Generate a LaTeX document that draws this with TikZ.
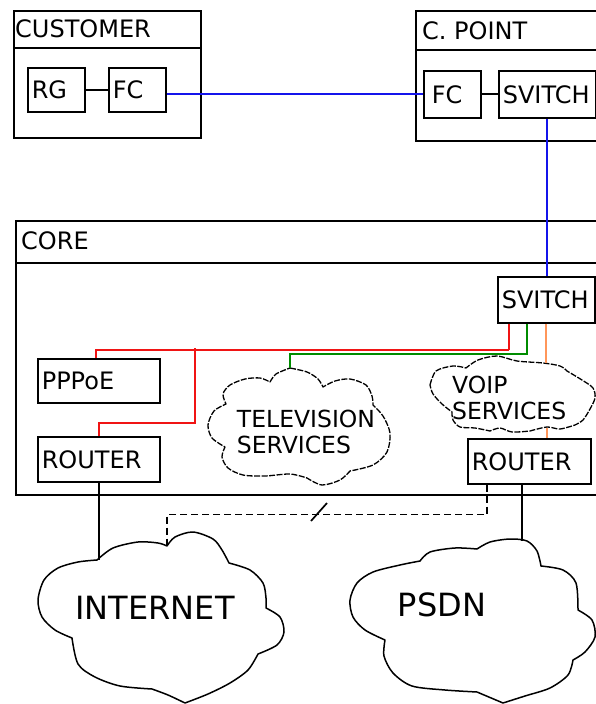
\documentclass[tikz,border=0pt]{standalone}
\usepackage{fontspec}
\setmainfont{DejaVu Sans}
\newcommand\lblfont{\fontsize{24}{28}\selectfont}
\newcommand\cloudfont{\fontsize{23.5}{26}\selectfont}
\newcommand\bigfont{\fontsize{32}{38}\selectfont}
\definecolor{linkblue}{RGB}{20,20,235}
\definecolor{linkred}{RGB}{240,20,20}
\definecolor{linkgreen}{RGB}{0,140,0}
\definecolor{linkorange}{RGB}{255,150,90}
\begin{document}
\begin{tikzpicture}[x=1pt,y=-1pt,
  frame/.style={draw, line width=1.6pt, anchor=north west, inner sep=0pt},
  unitbox/.style={draw, line width=1.6pt, anchor=north west, inner xsep=4pt,
                  inner ysep=0pt, align=left, font=\lblfont},
  title/.style={anchor=west, inner sep=0pt, font=\lblfont},
  wire/.style={line width=1.7pt},
  fiber/.style={draw=linkblue, line width=1.8pt},
  redlink/.style={draw=linkred, line width=1.9pt},
  greenlink/.style={draw=linkgreen, line width=1.9pt},
  orangelink/.style={draw=linkorange, line width=1.9pt},
  backup/.style={line width=1.6pt, dash pattern=on 7pt off 4pt},
  smallcloud/.style={line width=1.3pt, dash pattern=on 6pt off 1.5pt, line join=round},
  bigcloud/.style={line width=1.5pt, line join=round},
  cloudtext/.style={align=left, inner sep=0pt, font=\cloudfont},
  bigtext/.style={inner sep=0pt, font=\bigfont}]
\useasboundingbox[fill=white] (0,0) rectangle (596,704);

% ---- customer premises
\node[frame, minimum width=187pt, minimum height=127pt] (customer) at (13,10) {};
\draw[wire] ([yshift=-38pt]customer.north west) -- ([yshift=-38pt]customer.north east);
\node[title] (customerlbl) at (15,29) {CUSTOMER};
\node[unitbox, text width=49pt, minimum height=44pt] (rg) at (27,67) {RG};
\node[unitbox, text width=49pt, minimum height=44pt] (fccust) at (108,67) {FC};
\draw[wire] (rg) -- (fccust);

% ---- connection point
\node[frame, minimum width=190pt, minimum height=130pt] (cpoint) at (415,10) {};
\draw[wire] ([yshift=-40pt]cpoint.north west) -- ([yshift=-40pt]cpoint.north east);
\node[title] (cpointlbl) at (422,31) {C. POINT};
\node[unitbox, text width=49pt, minimum height=47pt] (fccp) at (423,70) {\hspace*{4pt}FC};
\node[unitbox, text width=89pt, minimum height=47pt] (swcp) at (498,70) {SVITCH};
\draw[wire] (fccp) -- (swcp);

% ---- core network
\node[frame, minimum width=590pt, minimum height=274pt] (core) at (15,220) {};
\draw[wire] ([yshift=-43pt]core.north west) -- ([yshift=-43pt]core.north east);
\node[title] (corelbl) at (21,241) {CORE};
\node[unitbox, text width=89pt, minimum height=46pt] (swcore) at (497,276) {SVITCH};
\node[unitbox, text width=114pt, minimum height=44pt] (pppoe) at (37,358) {PPPoE};
\node[unitbox, text width=114pt, minimum height=45pt] (rtinet) at (37,436) {ROUTER};
\node[unitbox, text width=115pt, minimum height=45pt] (rtvoip) at (467,438) {ROUTER};

% ---- fibre links
\draw[fiber] (fccust.east |- fccp.west) -- (fccp.west);
\draw[fiber] (swcp.south) -- (swcp.south |- swcore.north);

% ---- television cloud
\draw[smallcloud]
  plot[smooth] coordinates {(290,368) (307,372) (318,379) (323,387)}
  -- plot[smooth] coordinates {(323,387) (335,381) (350,379) (366,385) (372,396) (373,405)}
  -- plot[smooth] coordinates {(373,405) (383,416) (390,433) (387,452) (373,465) (350,471)}
  -- plot[smooth] coordinates {(350,471) (340,480) (322,485) (307,478)}
  -- plot[smooth] coordinates {(307,478) (290,474) (265,476) (243,475) (228,468) (222,457) (225,447)}
  -- plot[smooth] coordinates {(225,447) (212,438) (208,425) (214,411) (226,404)}
  -- plot[smooth] coordinates {(226,404) (223,394) (230,385) (245,379) (260,378) (270,382)}
  -- plot[smooth] coordinates {(270,382) (276,374) (290,368)} -- cycle;
\coordinate (tvtop) at (290,368);
\node[cloudtext] (tvlbl) at (306,432) {TELEVISION\\SERVICES};

% ---- voip cloud
\draw[smallcloud]
  plot[smooth] coordinates {(430,385) (436,371) (453,366) (466,368)}
  -- plot[smooth] coordinates {(466,368) (478,360) (497,356) (517,361) (543,363) (560,366) (567,371)}
  -- plot[smooth] coordinates {(567,371) (582,380) (593,388) (595,398) (590,409) (583,420) (575,425)}
  -- plot[smooth] coordinates {(575,425) (560,429) (547,427) (530,431)}
  -- plot[smooth] coordinates {(530,431) (512,432) (500,428) (490,431)}
  -- plot[smooth] coordinates {(490,431) (475,428) (460,427) (453,420) (452,412)}
  -- plot[smooth] coordinates {(452,412) (442,404) (433,394) (430,385)} -- cycle;
\coordinate (voiptop) at (546,363);
\coordinate (voipbot) at (547,428);
\node[cloudtext, anchor=west] (voiplbl) at (452,398) {VOIP\\SERVICES};

% ---- internet cloud
\draw[bigcloud]
  plot[smooth] coordinates {(97,560) (113,548) (138,542) (158,543) (167,546)}
  -- plot[smooth] coordinates {(167,546) (175,537) (193,532) (213,539) (222,550) (229,563)}
  -- plot[smooth] coordinates {(229,563) (250,570) (263,583) (266,598) (266,608)}
  -- plot[smooth] coordinates {(266,608) (280,617) (284,632) (277,645) (258,654)}
  -- plot[smooth] coordinates {(258,654) (248,670) (230,683) (208,694) (185,703)}
  -- plot[smooth] coordinates {(185,703) (168,695) (152,689)}
  -- plot[smooth] coordinates {(152,689) (120,686) (95,677) (78,664) (72,638)}
  -- plot[smooth] coordinates {(72,638) (55,630) (42,617) (38,600) (44,580) (58,568) (78,562) (97,560)} -- cycle;
\coordinate (inettop) at (97,560);
\coordinate (inetdash) at (167,546);
\node[bigtext] (inetlbl) at (155,608) {INTERNET};

% ---- psdn cloud
\draw[bigcloud]
  plot[smooth] coordinates {(385,640) (365,630) (353,617) (350,600) (357,583) (373,572) (400,565) (420,561)}
  -- plot[smooth] coordinates {(420,561) (430,552) (455,548) (477,549)}
  -- plot[smooth] coordinates {(477,549) (490,542) (510,539) (527,541) (537,551) (541,566)}
  -- plot[smooth] coordinates {(541,566) (563,570) (576,583) (578,610)}
  -- plot[smooth] coordinates {(578,610) (592,620) (595,637) (585,652) (573,660)}
  -- plot[smooth] coordinates {(573,660) (568,675) (550,688) (525,696) (503,703)}
  -- (477,692)
  -- plot[smooth] coordinates {(477,692) (445,690) (412,686) (393,673) (384,656) (385,640)} -- cycle;
\coordinate (psdntop) at (522,541);
\node[bigtext] (psdnlbl) at (442,605) {PSDN};

% ---- service links from the core switch
\coordinate (redbus) at ([xshift=12pt,yshift=-26pt]swcore.south west);
\coordinate (redtap) at (195,348);
\coordinate (pppoein) at ([xshift=-3pt]pppoe.north);
\draw[redlink] ([xshift=12pt]swcore.south west) -- (redbus);
\draw[redlink] (redbus) -- (redbus -| pppoein) -- (pppoein);
\draw[redlink] (redtap) -- ++(0,75) -| (rtinet.north);
\draw[greenlink] ([xshift=30pt]swcore.south west) -- ++(0,30) -| (tvtop);
\draw[orangelink] ([xshift=49pt]swcore.south west) -- (voiptop);
\draw[orangelink] (voipbot) -- ([xshift=80pt]rtvoip.north west);

% ---- uplinks to external networks
\draw[wire] (rtinet.south) -- (rtinet.south |- inettop);
\draw[wire] ([xshift=55pt]rtvoip.south west) -- (psdntop);
\draw[backup] ([xshift=20pt]rtvoip.south west) -- ++(0,30) -| (inetdash);
\coordinate (cut) at (319,512);
\draw[wire] (cut) +(-8,9) -- +(8,-9);
\end{tikzpicture}
\end{document}
